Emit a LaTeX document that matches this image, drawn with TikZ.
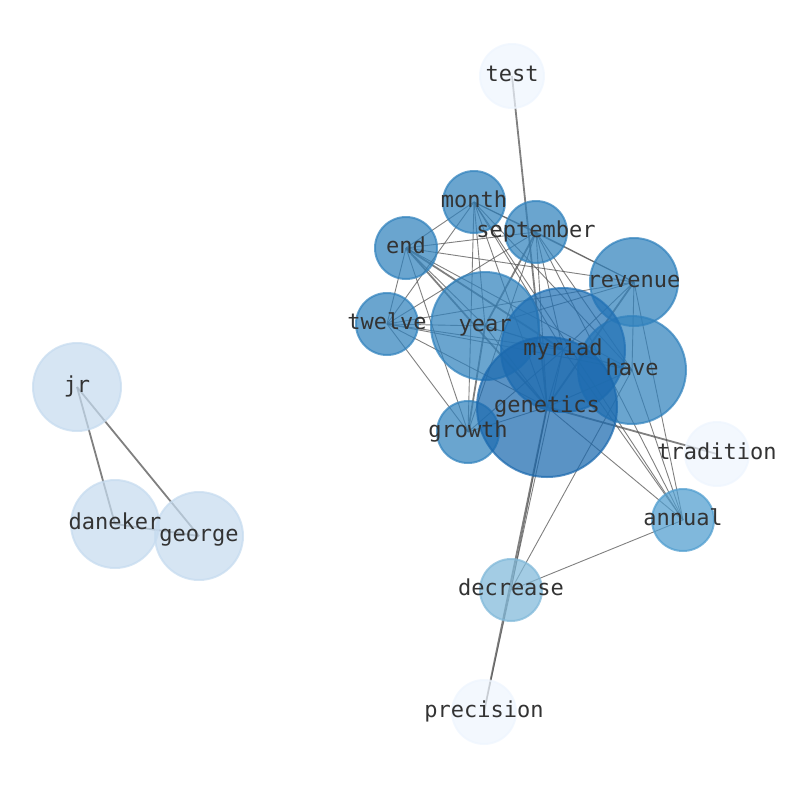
\documentclass[tikz,border=0pt]{standalone}
\usepackage{fontspec}
\setmonofont{DejaVu Sans Mono}
\usetikzlibrary{backgrounds}
\definecolor{cA}{HTML}{1B69AE}
\definecolor{cB}{HTML}{2171B5}
\definecolor{cC}{HTML}{3182BD}
\definecolor{cD}{HTML}{4F9DCF}
\definecolor{cE}{HTML}{7FB8D9}
\definecolor{cF}{HTML}{C6DBEF}
\definecolor{cG}{HTML}{EEF5FE}
\definecolor{edgec}{HTML}{555555}
\definecolor{labc}{HTML}{333333}
\tikzset{
  vtx/.style 2 args={circle, inner sep=0pt, minimum size=#2pt, fill=#1, draw=#1, fill opacity=0.72, draw opacity=0.72, line width=2pt},
  lab/.style={text=labc, font=\ttfamily\fontsize{22}{24}\selectfont, inner sep=0pt, text height=1.05em, text depth=0em},
  ed/.style={draw=edgec, draw opacity=0.75, line width=0.9pt},
  edw/.style={draw=edgec, draw opacity=0.75, line width=1.8pt},
}
\begin{document}
\begin{tikzpicture}[x=1pt,y=-1pt]
\useasboundingbox (0,0) rectangle (794,790);
% nodes
\node[vtx={cG}{64}] (test) at (512,76) {};
\node[vtx={cG}{64}] (tradition) at (717,454) {};
\node[vtx={cG}{64}] (precision) at (484,712) {};
\node[vtx={cF}{88}] (jr) at (77,387) {};
\node[vtx={cF}{88}] (daneker) at (115,524) {};
\node[vtx={cF}{88}] (george) at (199,536) {};
\node[vtx={cE}{62}] (decrease) at (511,590) {};
\node[vtx={cD}{62}] (annual) at (683,520) {};
\node[vtx={cC}{62}] (month) at (474,202) {};
\node[vtx={cC}{62}] (september) at (536,232) {};
\node[vtx={cC}{62}] (end) at (406,248) {};
\node[vtx={cC}{62}] (twelve) at (387,324) {};
\node[vtx={cC}{62}] (growth) at (468,432) {};
\node[vtx={cC}{88}] (revenue) at (634,282) {};
\node[vtx={cC}{108}] (year) at (485,326) {};
\node[vtx={cC}{108}] (have) at (632,370) {};
\node[vtx={cB}{124}] (myriad) at (563,350) {};
\node[vtx={cA}{140}] (genetics) at (547,407) {};
% labels
\foreach \n in {test,tradition,precision,jr,daneker,george,decrease,annual,month,september,end,twelve,growth,revenue,year,have,myriad,genetics}
  \node[lab] at (\n.center) {\n};
% edges
\begin{scope}[on background layer]
\draw[edw] (test.center) -- (genetics.center);
\draw[edw] (precision.center) -- (genetics.center);
\draw[ed] (precision.center) -- (myriad.center);
\draw[edw] (tradition.center) -- (genetics.center);
\draw[edw] (jr.center) -- (daneker.center);
\draw[edw] (jr.center) -- (george.center);
\draw[edw] (daneker.center) -- (george.center);
\foreach \a/\b in {month/end, month/twelve, month/september, month/year, month/growth, month/genetics, month/myriad, month/have, month/revenue, month/annual,
  end/september, end/revenue, end/twelve, end/year, end/growth, end/have,
  twelve/september, twelve/year, twelve/myriad, twelve/genetics, twelve/have, twelve/revenue, twelve/growth,
  september/growth, september/myriad, september/genetics, september/have, september/annual, september/revenue,
  year/myriad, year/genetics, year/have,
  revenue/myriad, revenue/have, revenue/annual, revenue/year,
  have/annual, have/decrease, have/genetics, have/myriad,
  myriad/genetics, myriad/growth, myriad/annual,
  genetics/growth, genetics/annual, genetics/decrease,
  annual/decrease}
  \draw[ed] (\a.center) -- (\b.center);
\foreach \a/\b in {end/myriad, end/genetics, september/year, year/growth, revenue/genetics}
  \draw[edw] (\a.center) -- (\b.center);
\end{scope}
\end{tikzpicture}
\end{document}
